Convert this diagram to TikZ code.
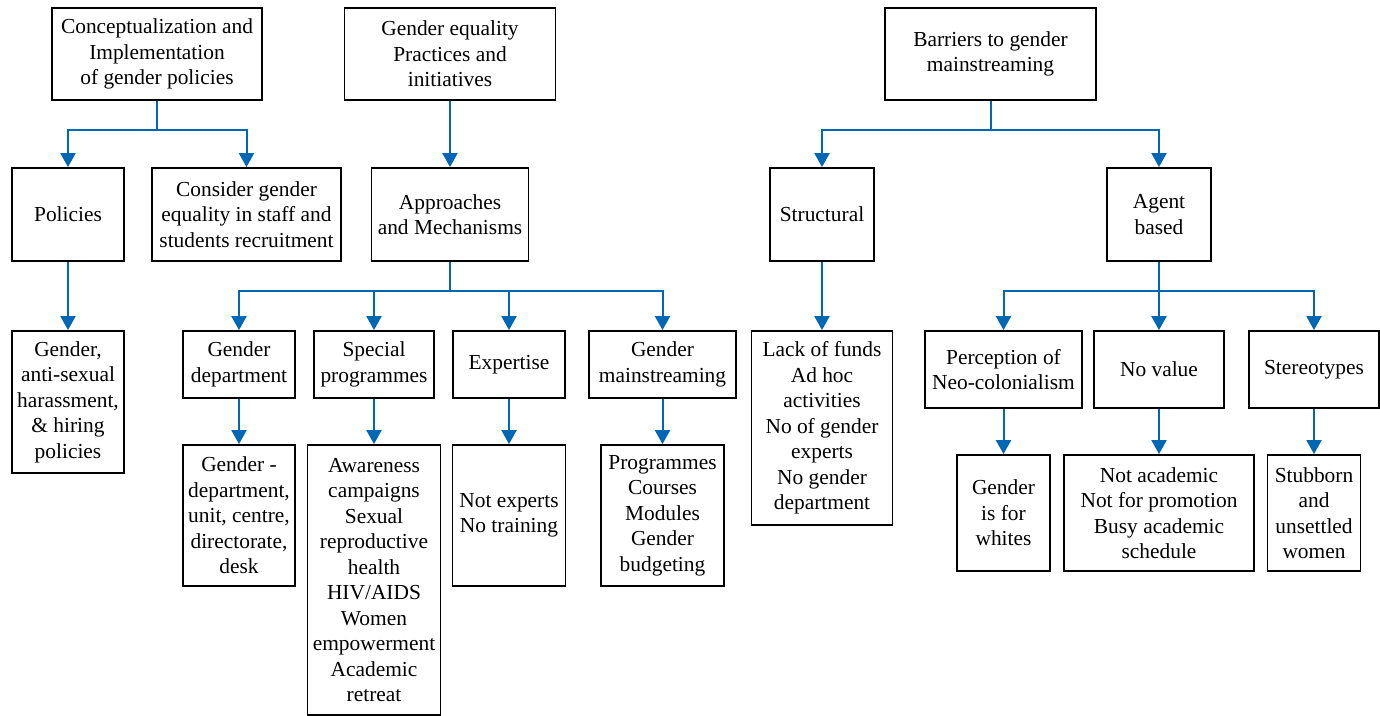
\documentclass[tikz,border=0pt]{standalone}
\usepackage{fontspec}
\setmainfont{Liberation Serif}
\usetikzlibrary{arrows.meta}
\definecolor{linkBlue}{RGB}{0,103,180}

\begin{document}
\begin{tikzpicture}[
    x=0.5pt, y=-0.5pt,
    box/.style 2 args={
      draw=black, line width=0.9pt, inner sep=1pt, align=center,
      minimum width=#1, minimum height=#2,
      font=\fontsize{10.7}{12.75}\selectfont
    },
    link/.style={line width=1pt, linkBlue},
    arr/.style={link, -{Triangle[width=7.5pt,length=7pt]}}
  ]
    \useasboundingbox (0,0) rectangle (1380,716);

    \node[box={105pt}{46pt}] (concept) at (157,54) {Conceptualization and\\Implementation\\of gender policies};
    \node[box={105.5pt}{46pt}] (practices) at (450,54) {Gender equality\\Practices and\\initiatives};
    \node[box={105.5pt}{46pt}] (barriers) at (990.5,54) {Barriers to gender\\mainstreaming};

    \node[box={56pt}{46.5pt}] (policies) at (68,214.5) {Policies};
    \node[box={94.5pt}{46.5pt}] (consider) at (246.5,214.5) {Consider gender\\equality in staff and\\students recruitment};
    \node[box={78.5pt}{46.5pt}] (approaches) at (450,214.5) {Approaches\\and Mechanisms};
    \node[box={52pt}{46.5pt}] (structural) at (822,214.5) {Structural};
    \node[box={52pt}{46.5pt}] (agent) at (1159,214.5) {Agent\\based};

    \node[box={56pt}{71pt}] (hiring) at (68,402) {Gender,\\anti-sexual\\harassment,\\\& hiring\\policies};
    \node[box={56pt}{33.5pt}] (gdept) at (239,364.5) {Gender\\department};
    \node[box={60pt}{33.5pt}] (special) at (374,364.5) {Special\\programmes};
    \node[box={56pt}{33.5pt}] (expertise) at (509,364.5) {Expertise};
    \node[box={73.5pt}{33.5pt}] (mainstream) at (662.5,364.5) {Gender\\mainstreaming};
    \node[box={70.5pt}{97pt}] (lack) at (822,428) {Lack of funds\\Ad hoc\\activities\\No of gender\\experts\\No gender\\department};
    \node[box={78.5pt}{38.5pt}] (perception) at (1003.5,369.5) {Perception of\\Neo-colonialism};
    \node[box={65pt}{38.5pt}] (novalue) at (1159,369.5) {No value};
    \node[box={65pt}{38.5pt}] (stereo) at (1314,369.5) {Stereotypes};

    \node[box={56pt}{70.5pt}] (units) at (239,515.5) {Gender -\\department,\\unit, centre,\\directorate,\\desk};
    \node[box={66.5pt}{135pt}] (awareness) at (374,580) {Awareness\\campaigns\\Sexual\\reproductive\\health\\HIV/AIDS\\Women\\empowerment\\Academic\\retreat};
    \node[box={56.5pt}{70.5pt}] (notexp) at (509,515.5) {Not experts\\No training};
    \node[box={61.5pt}{70.5pt}] (courses) at (662.5,515.5) {Programmes\\Courses\\Modules\\Gender\\budgeting};
    \node[box={46.5pt}{58pt}] (whites) at (1003.5,513) {Gender\\is for\\whites};
    \node[box={95pt}{58pt}] (notacad) at (1159,513) {Not academic\\Not for promotion\\Busy academic\\schedule};
    \node[box={46.5pt}{58pt}] (stubborn) at (1314,513) {Stubborn\\and\\unsettled\\women};

    \draw[link] (concept.south) -- ++(0,29) coordinate (jconcept);
    \draw[arr] (jconcept) -| (policies.north);
    \draw[arr] (jconcept) -| (consider.north);
    \draw[arr] (practices.south) -- (approaches.north);
    \draw[link] (barriers.south) -- ++(0,29) coordinate (jbarriers);
    \draw[arr] (jbarriers) -| (structural.north);
    \draw[arr] (jbarriers) -| (agent.north);

    \draw[arr] (policies.south) -- (hiring.north);
    \draw[link] (approaches.south) -- ++(0,29) coordinate (japproaches);
    \draw[arr] (japproaches) -| (gdept.north);
    \draw[arr] (japproaches) -| (special.north);
    \draw[arr] (japproaches) -| (expertise.north);
    \draw[arr] (japproaches) -| (mainstream.north);
    \draw[arr] (structural.south) -- (lack.north);
    \draw[link] (agent.south) -- ++(0,29) coordinate (jagent);
    \draw[arr] (jagent) -| (perception.north);
    \draw[arr] (jagent) -- (novalue.north);
    \draw[arr] (jagent) -| (stereo.north);

    \draw[arr] (gdept.south) -- (units.north);
    \draw[arr] (special.south) -- (awareness.north);
    \draw[arr] (expertise.south) -- (notexp.north);
    \draw[arr] (mainstream.south) -- (courses.north);
    \draw[arr] (perception.south) -- (whites.north);
    \draw[arr] (novalue.south) -- (notacad.north);
    \draw[arr] (stereo.south) -- (stubborn.north);
\end{tikzpicture}
\end{document}
